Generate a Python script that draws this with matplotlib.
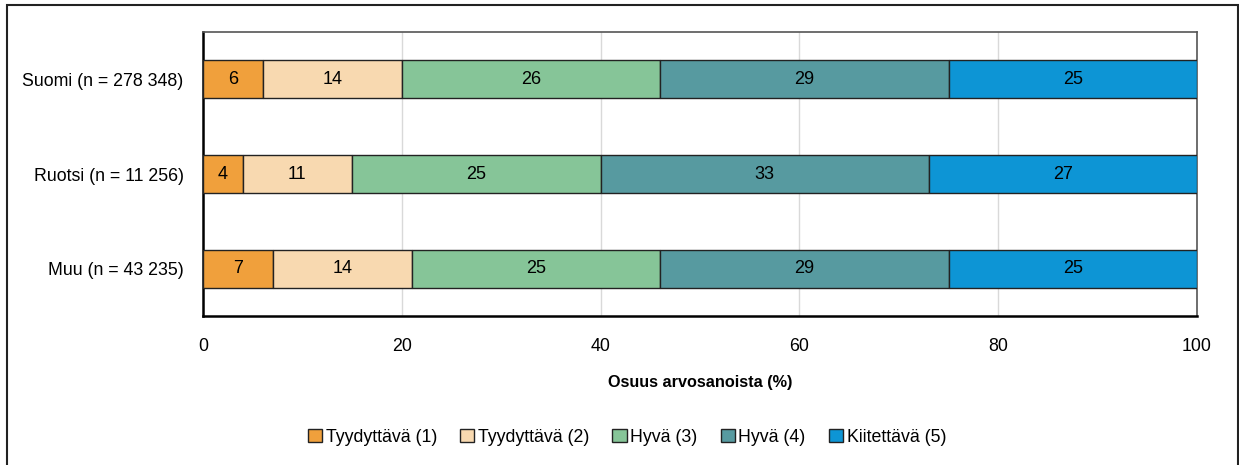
import matplotlib.pyplot as plt
from matplotlib.patches import Rectangle

plt.rcParams['font.family'] = ['Liberation Sans', 'DejaVu Sans']
plt.rcParams['font.size'] = 12.5

groups = ['Suomi (n = 278 348)', 'Ruotsi (n = 11 256)', 'Muu (n = 43 235)']
grades = ['Tyydyttävä (1)', 'Tyydyttävä (2)', 'Hyvä (3)', 'Hyvä (4)', 'Kiitettävä (5)']
shares = [
    [6, 4, 7],
    [14, 11, 14],
    [26, 25, 25],
    [29, 33, 29],
    [25, 27, 25],
]
colors = ['#F0A03C', '#F8D9B0', '#86C598', '#579AA0', '#0D95D5']

fig = plt.figure(figsize=(12.39, 4.65), dpi=100)
ax = fig.add_axes([203 / 1239, 1 - 316 / 465, 994 / 1239, 284 / 465])

# outer frame around the whole figure
fig.patches.append(Rectangle((7 / 1239, -0.01), 1231 / 1239, 1 - 5 / 465 + 0.01,
                             transform=fig.transFigure, fill=False,
                             edgecolor='#222222', linewidth=1.5))

ypos = list(range(len(groups)))
left = [0] * len(groups)
for name, vals, col in zip(grades, shares, colors):
    bars = ax.barh(ypos, vals, left=left, height=0.4, color=col,
                   edgecolor='#222222', linewidth=1, label=name, zorder=3)
    for b, v in zip(bars, vals):
        ax.text(b.get_x() + b.get_width() / 2, b.get_y() + b.get_height() / 2,
                str(v), ha='center', va='center', fontsize=13, zorder=4)
    left = [l + v for l, v in zip(left, vals)]

ax.set_xlim(0, 100)
ax.set_ylim(2.5, -0.5)
ax.set_yticks(ypos)
ax.set_yticklabels(groups, fontsize=12.8)
ax.set_xticks(range(0, 101, 20))
ax.tick_params(axis='x', labelsize=12.8, length=0, pad=16)
ax.tick_params(axis='y', length=0, pad=14)
ax.grid(axis='x', color='#D9D9D9', linewidth=1, zorder=0)
ax.set_xlabel('Osuus arvosanoista (%)', fontsize=11.7, fontweight='bold', labelpad=14)

for side in ['top', 'right']:
    ax.spines[side].set_color('#555555')
    ax.spines[side].set_linewidth(1.2)
for side in ['left', 'bottom']:
    ax.spines[side].set_color('black')
    ax.spines[side].set_linewidth(1.8)

fig.legend(loc='center', bbox_to_anchor=(627 / 1239, 1 - 437 / 465), ncol=5,
           frameon=False, fontsize=12.8, handlelength=0.8, handleheight=0.8,
           handletextpad=0.2, columnspacing=1.3)

fig.savefig('out.png', dpi=100)
